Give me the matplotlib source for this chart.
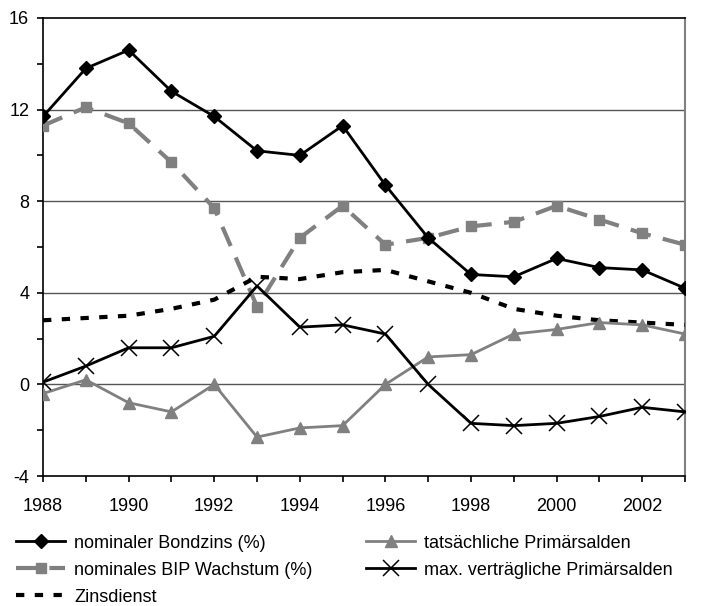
import numpy as np
import matplotlib.pyplot as plt
from matplotlib.ticker import MultipleLocator

plt.rcParams['font.family'] = ['Liberation Sans', 'DejaVu Sans']
plt.rcParams['axes.unicode_minus'] = False

# Data
years = np.arange(1988, 2004)
bondzins = [11.7, 13.8, 14.6, 12.8, 11.7, 10.2, 10.0, 11.3, 8.7, 6.4, 4.8, 4.7, 5.5, 5.1, 5.0, 4.2]
bip_wachstum = [11.3, 12.1, 11.4, 9.7, 7.7, 3.4, 6.4, 7.8, 6.1, 6.4, 6.9, 7.1, 7.8, 7.2, 6.6, 6.1]
zinsdienst = [2.8, 2.9, 3.0, 3.3, 3.7, 4.7, 4.6, 4.9, 5.0, 4.5, 4.0, 3.3, 3.0, 2.8, 2.7, 2.6]
tats_primaer = [-0.4, 0.2, -0.8, -1.2, 0.0, -2.3, -1.9, -1.8, 0.0, 1.2, 1.3, 2.2, 2.4, 2.7, 2.6, 2.2]
max_primaer = [0.1, 0.8, 1.6, 1.6, 2.1, 4.3, 2.5, 2.6, 2.2, 0.0, -1.7, -1.8, -1.7, -1.4, -1.0, -1.2]

labels = ['nominaler Bondzins (%)', 'nominales BIP Wachstum (%)', 'Zinsdienst',
          'tatsächliche Primärsalden', 'max. verträgliche Primärsalden']

grey = '#808080'
fs = 13

fig = plt.figure(figsize=(7.02, 6.06), dpi=100)
ax = fig.add_axes([0.0613, 0.2145, 0.9145, 0.7558])

# gridlines
for g in [0, 4, 8, 12]:
    ax.axhline(g, color='#555555', lw=1.0, zorder=1)

l1, = ax.plot(years, bondzins, color='black', lw=2, marker='D', ms=7.5, zorder=5)
l2, = ax.plot(years, bip_wachstum, color=grey, lw=3, ls=(0, (5, 3)), marker='s', ms=7, zorder=4)
l3, = ax.plot(years, zinsdienst, color='black', lw=3, ls=(0, (2, 2.5)), zorder=3)
l4, = ax.plot(years, tats_primaer, color=grey, lw=2, marker='^', ms=9, zorder=4)
l5, = ax.plot(years, max_primaer, color='black', lw=2, marker='x', ms=11, mew=1.1, zorder=5)

ax.set_xlim(1988, 2003)
ax.set_ylim(-4, 16)
ax.xaxis.set_major_locator(MultipleLocator(2))
ax.xaxis.set_minor_locator(MultipleLocator(1))
ax.yaxis.set_major_locator(MultipleLocator(4))
ax.yaxis.set_minor_locator(MultipleLocator(2))
ax.tick_params(which='both', direction='out', length=4, width=1.2, labelsize=fs)
ax.tick_params(axis='x', pad=12)
ax.tick_params(axis='y', pad=6)

ax.spines['left'].set_linewidth(1.2)
ax.spines['bottom'].set_linewidth(1.2)
ax.spines['top'].set_linewidth(1.2)
ax.spines['right'].set_color(grey)
ax.spines['right'].set_linewidth(1.5)

fig.legend([l1, l2, l3, l4, l5], labels, ncol=2, loc='upper left',
           bbox_to_anchor=(0.005, 1 - 522 / 606), frameon=False, fontsize=fs,
           handlelength=2.7, handletextpad=0.5, columnspacing=3.0, labelspacing=0.55,
           borderpad=0.2)

fig.savefig('out.png', dpi=100)
